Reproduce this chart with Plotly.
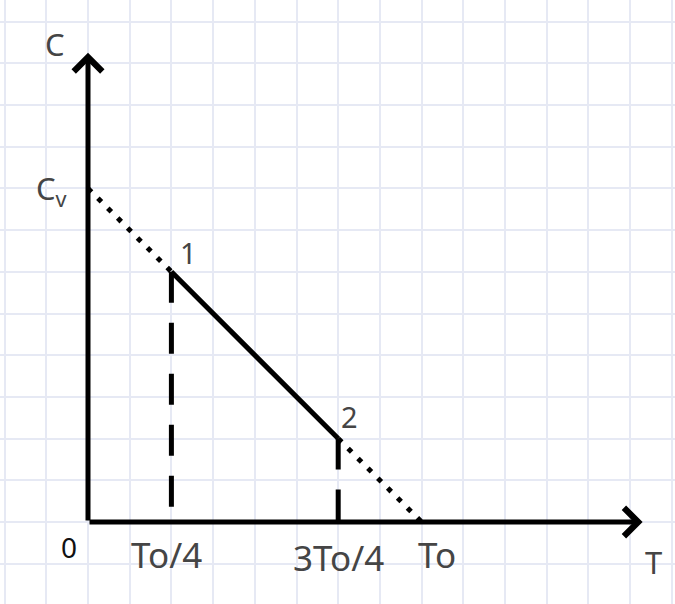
import plotly.graph_objects as go

# values (one grid square = 1 unit)
c_v = 8                      # intercept on the C axis
t_0 = 8                      # intercept on the T axis
tick_labels = ["0", "To/4", "3To/4", "To"]
tick_values = [0, 2, 6, 8]
process_t = [2, 6]           # points 1 and 2
process_c = [6, 2]
point_labels = ["1", "2"]

# pixel mapping: origin at (88, 522), 41.7 px per unit, plot area fills the page
W, H = 675, 604
ox, oy, unit = 88, 522, 41.7
x_range = [-ox / unit, (W - ox) / unit]
y_range = [-(H - oy) / unit, oy / unit]

fig = go.Figure()

# dotted extension of the line C = Cv (1 - T/To)
dot_style = dict(color="black", width=5, dash="5px,9px")
fig.add_trace(go.Scatter(x=[0, process_t[0]], y=[c_v, process_c[0]],
                         mode="lines", line=dot_style))
fig.add_trace(go.Scatter(x=[process_t[1], t_0], y=[process_c[1], 0],
                         mode="lines", line=dot_style))

# dashed drops from 1 and 2 to the T axis
for t, c in zip(process_t, process_c):
    fig.add_trace(go.Scatter(x=[t, t], y=[c, 0], mode="lines",
                             line=dict(color="black", width=5, dash="31px,20px")))

# solid process 1 -> 2
fig.add_trace(go.Scatter(x=process_t, y=process_c, mode="lines",
                         line=dict(color="black", width=5)))

label_font = dict(family="Noto Sans", color="#454545")
annotations = []

# axes with arrows
annotations.append(dict(x=0, y=11.25, ax=0, ay=0, xref="x", yref="y",
                        axref="x", ayref="y", text="", showarrow=True,
                        arrowhead=4, arrowwidth=5, arrowsize=1.1, arrowcolor="black"))
annotations.append(dict(x=13.3, y=0, ax=0, ay=0, xref="x", yref="y",
                        axref="x", ayref="y", text="", showarrow=True,
                        arrowhead=4, arrowwidth=5, arrowsize=1.1, arrowcolor="black"))

# tick labels along T
tick_pos = {"0": (-0.46, -0.6), "To/4": (1.89, -0.79),
            "3To/4": (6.0, -0.86), "To": (8.37, -0.79)}
for lab in tick_labels:
    x, y = tick_pos[lab]
    if lab == "0":
        f = dict(family="Noto Sans", color="#111111", size=28)
    else:
        f = dict(label_font, size=35)
    annotations.append(dict(x=x, y=y, text=lab, showarrow=False, font=f,
                            xanchor="center", yanchor="middle"))

# axis names and Cv
annotations.append(dict(x=-0.79, y=11.46, text="C", showarrow=False,
                        font=dict(label_font, size=31)))
annotations.append(dict(x=13.55, y=-0.96, text="T", showarrow=False,
                        font=dict(label_font, size=31)))
annotations.append(dict(x=-0.42, y=7.95, text="C<sub>v</sub>", showarrow=False,
                        xanchor="right", font=dict(label_font, size=31)))

# point labels
for lab, x, y in zip(point_labels, [2.40, 6.28], [6.47, 2.54]):
    annotations.append(dict(x=x, y=y, text=lab, showarrow=False,
                            font=dict(label_font, size=29)))

fig.update_layout(
    width=W, height=H,
    margin=dict(l=0, r=0, t=0, b=0, pad=0),
    paper_bgcolor="white", plot_bgcolor="white",
    showlegend=False,
    annotations=annotations,
    xaxis=dict(range=x_range, dtick=1, tick0=0, showgrid=True, gridcolor="#e6e9f4",
               gridwidth=2, zeroline=False, showticklabels=False, showline=False),
    yaxis=dict(range=y_range, dtick=1, tick0=0, showgrid=True, gridcolor="#e6e9f4",
               gridwidth=2, zeroline=False, showticklabels=False, showline=False),
)

# page body has a default 8px margin; drop it so the chart fills the window
fig.write_html("out.html", config={"displayModeBar": False},
               post_script="document.body.style.margin='0';")
